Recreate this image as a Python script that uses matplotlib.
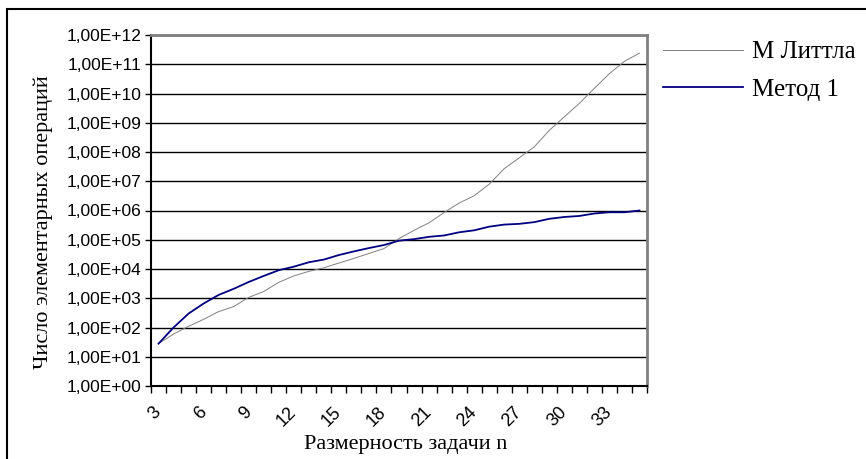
import numpy as np
import matplotlib; matplotlib.use("Agg")
import matplotlib.pyplot as plt
from matplotlib.patches import Rectangle

plt.rcParams["font.family"] = "Liberation Serif"

# размерность задачи n = 3..35
n_vals = list(range(3, 36))
little = [2.8e1, 6.0e1, 1.1e2, 1.9e2, 3.5e2, 5.2e2, 1.07e3, 1.7e3, 3.5e3, 5.8e3,
          8.3e3, 1.1e4, 1.6e4, 2.3e4, 3.4e4, 5.0e4, 1.1e5, 2.1e5, 3.8e5, 8.5e5,
          1.8e6, 3.2e6, 7.9e6, 2.7e7, 6.3e7, 1.5e8, 5.5e8, 1.6e9, 4.6e9, 1.5e10,
          4.8e10, 1.26e11, 2.4e11]
method1 = [2.8e1, 1.0e2, 3.0e2, 6.6e2, 1.3e3, 2.1e3, 3.6e3, 5.8e3, 9.1e3, 1.2e4,
           1.7e4, 2.1e4, 3.0e4, 4.0e4, 5.2e4, 6.6e4, 9.3e4, 1.05e5, 1.26e5, 1.4e5,
           1.8e5, 2.1e5, 2.8e5, 3.3e5, 3.5e5, 4.0e5, 5.2e5, 6.0e5, 6.5e5, 7.9e5,
           8.7e5, 8.7e5, 1.0e6]
x_labels = [3, 6, 9, 12, 15, 18, 21, 24, 27, 30, 33]
y_exps = list(range(0, 13))

W, H = 866, 459
fig = plt.figure(figsize=(W / 100, H / 100), dpi=100)
ax = fig.add_axes([151 / W, 1 - 386 / H, 496 / W, 351 / H])

pos = np.arange(len(n_vals))
l1, = ax.plot(pos, little, color="#808080", lw=0.7, label="М Литтла")
l2, = ax.plot(pos, method1, color="#000080", lw=1.3, label="Метод 1")

ax.set_yscale("log")
ax.set_ylim(1, 1e12)
ax.set_xlim(-0.5, len(n_vals) - 0.5)
ax.set_yticks([10.0 ** e for e in y_exps])
ax.set_yticklabels([f"1,00E+{e:02d}" for e in y_exps], fontfamily="Liberation Sans", fontsize=12.5)
ax.yaxis.set_minor_locator(plt.NullLocator())
ax.grid(axis="y", color="black", lw=1.0)
ax.tick_params(axis="y", direction="out", length=4, width=1, pad=3)

# tick marks between categories, labels on every 3rd category
ax.set_xticks(np.arange(-0.5, len(n_vals), 1.0))
ax.set_xticklabels([])
ax.tick_params(axis="x", which="major", direction="out", length=5, width=1)
ax.set_xticks([n_vals.index(v) for v in x_labels], minor=True)
ax.set_xticklabels([str(v) for v in x_labels], minor=True, rotation=45, ha="right",
                   va="center", rotation_mode="anchor", fontfamily="Liberation Sans", fontsize=13)
ax.tick_params(axis="x", which="minor", length=0, pad=17)

for s in ["top", "right"]:
    ax.spines[s].set_color("#808080")
    ax.spines[s].set_linewidth(2)
for s in ["left", "bottom"]:
    ax.spines[s].set_color("black")
    ax.spines[s].set_linewidth(1.5)

fig.text(43 / W, 1 - 222 / H, "Число элементарных операций", rotation=90,
         ha="center", va="center", fontsize=16)
fig.text(406 / W, 1 - 445 / H, "Размерность задачи n", ha="center", va="center", fontsize=16)

fig.legend(handles=[l1, l2], loc="upper left", bbox_to_anchor=(663 / W, 1 - 41 / H),
           frameon=False, fontsize=18, handlelength=3.2, handletextpad=0.35,
           labelspacing=0.6, borderpad=0, borderaxespad=0)

fig.patches.append(Rectangle((7 / W, -0.1), 1.1, 1.1 - 9.5 / H, transform=fig.transFigure,
                             fill=False, ec="black", lw=1.5))

fig.savefig("out.png", dpi=100)
